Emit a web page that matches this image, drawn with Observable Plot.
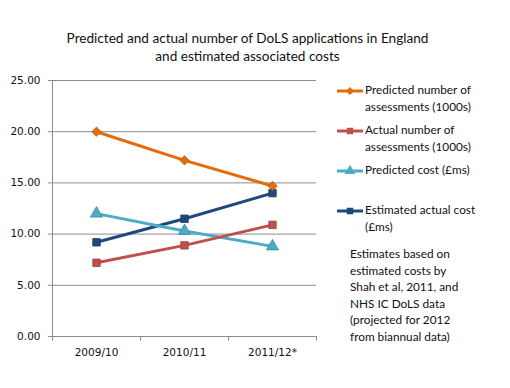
<!DOCTYPE html>
<html><head><meta charset="utf-8">
<script src="https://cdn.jsdelivr.net/npm/d3@7"></script>
<script src="https://cdn.jsdelivr.net/npm/@observablehq/plot@0.6"></script>
<style>
html,body{margin:0;padding:0;background:#fff;}
#wrap{position:relative;width:510px;height:388px;overflow:hidden;font-family:Lato,"Open Sans",sans-serif;}
#chart{position:absolute;left:0;top:0;}
#title{position:absolute;left:0;width:495px;top:29px;text-align:center;font-size:13.6px;line-height:18px;color:#111;}
#legend{position:absolute;left:337px;top:82px;font-size:11.8px;color:#111;}
.item{position:absolute;left:0;width:170px;}
.item svg{position:absolute;left:0;top:2px;}
.item .lab{position:absolute;left:28px;top:0;line-height:16.5px;white-space:nowrap;}
#note{position:absolute;left:350px;top:246px;font-size:11.8px;line-height:16.6px;color:#111;}
</style></head>
<body><div id="wrap">
<div id="chart"></div>
<div id="title">Predicted and actual number of DoLS applications in England<br>and estimated associated costs</div>
<div id="legend"></div>
<div id="note">Estimates based on<br>estimated costs by<br>Shah et al, 2011, and<br>NHS IC DoLS data<br>(projected for 2012<br>from biannual data)</div>
</div>
<script>
const years = ["2009/10", "2010/11", "2011/12*"];
const seriesNames = ["Predicted number of assessments (1000s)", "Actual number of assessments (1000s)", "Predicted cost (£ms)", "Estimated actual cost (£ms)"];
const predictedAssessments = [20.0, 17.2, 14.7];
const actualAssessments = [7.2, 8.9, 10.9];
const predictedCost = [12.0, 10.3, 8.8];
const estimatedActualCost = [9.2, 11.5, 14.0];
const yTicks = [0, 5, 10, 15, 20, 25];

const colors = ["#E46C0A", "#C0504D", "#4BACC6", "#1F497D"];
const symbols = ["diamond2", "square", "triangle", "square"];
const valuesBySeries = [predictedAssessments, actualAssessments, predictedCost, estimatedActualCost];
const data = [];
seriesNames.forEach((s, i) => years.forEach((y, j) => data.push({series: s, year: y, value: valuesBySeries[i][j], idx: i})));
const drawOrder = [3, 2, 1, 0];

const marks = [
  Plot.ruleY(yTicks, {stroke: "#8c8c8c", strokeWidth: 1, insetLeft: -4}),
  Plot.ruleX([years[0]], {x: d => d, dx: -44, y1: 0, y2: 25, stroke: "#8c8c8c"}),
  Plot.ruleX(years, {x: d => d, dx: -44, y1: 0, y2: -0.45, stroke: "#8c8c8c"}),
  Plot.ruleX([years[years.length - 1]], {x: d => d, dx: 44, y1: 0, y2: -0.45, stroke: "#8c8c8c"})
];
for (const i of drawOrder) {
  const d = data.filter(r => r.idx === i);
  marks.push(Plot.line(d, {x: "year", y: "value", stroke: colors[i], strokeWidth: 3}));
  marks.push(Plot.dot(d, {x: "year", y: "value", symbol: () => symbols[i], r: i === 2 ? 4.5 : 4.2, fill: colors[i], stroke: d3.color(colors[i]).darker(0.6).formatHex(), strokeWidth: 0.8}));
}

const plot = Plot.plot({
  width: 510, height: 388,
  marginLeft: 52, marginRight: 194, marginTop: 80, marginBottom: 52,
  style: {fontFamily: "DejaVu Sans, sans-serif", fontSize: "10.5px", color: "#111", background: "transparent", overflow: "visible"},
  x: {type: "point", domain: years, padding: 0.5, label: null, tickSize: 0, tickPadding: 12},
  y: {domain: [0, 25], ticks: yTicks, tickFormat: d => d.toFixed(2), label: null, tickSize: 0, tickPadding: 12},
  marks
});
document.getElementById("chart").appendChild(plot);

const legend = document.getElementById("legend");
const tops = [0, 40, 80, 120];
const labelLines = [["Predicted number of", "assessments (1000s)"], ["Actual number of", "assessments (1000s)"], ["Predicted cost (£ms)"], ["Estimated actual cost", "(£ms)"]];
seriesNames.forEach((name, i) => {
  const item = document.createElement("div");
  item.className = "item";
  item.style.top = tops[i] + "px";
  const sym = d3.symbol().type(i === 0 ? d3.symbolDiamond2 : i === 2 ? d3.symbolTriangle : d3.symbolSquare).size(i === 2 ? 50 : 42)();
  item.innerHTML = `<svg width="26" height="14"><line x1="0" x2="26" y1="7" y2="7" stroke="${colors[i]}" stroke-width="3"/><path transform="translate(13,7)" d="${sym}" fill="${colors[i]}"/></svg>`;
  const lab = document.createElement("div");
  lab.className = "lab";
  lab.innerHTML = labelLines[i].join("<br>");
  item.appendChild(lab);
  legend.appendChild(item);
});
</script>
</body></html>
